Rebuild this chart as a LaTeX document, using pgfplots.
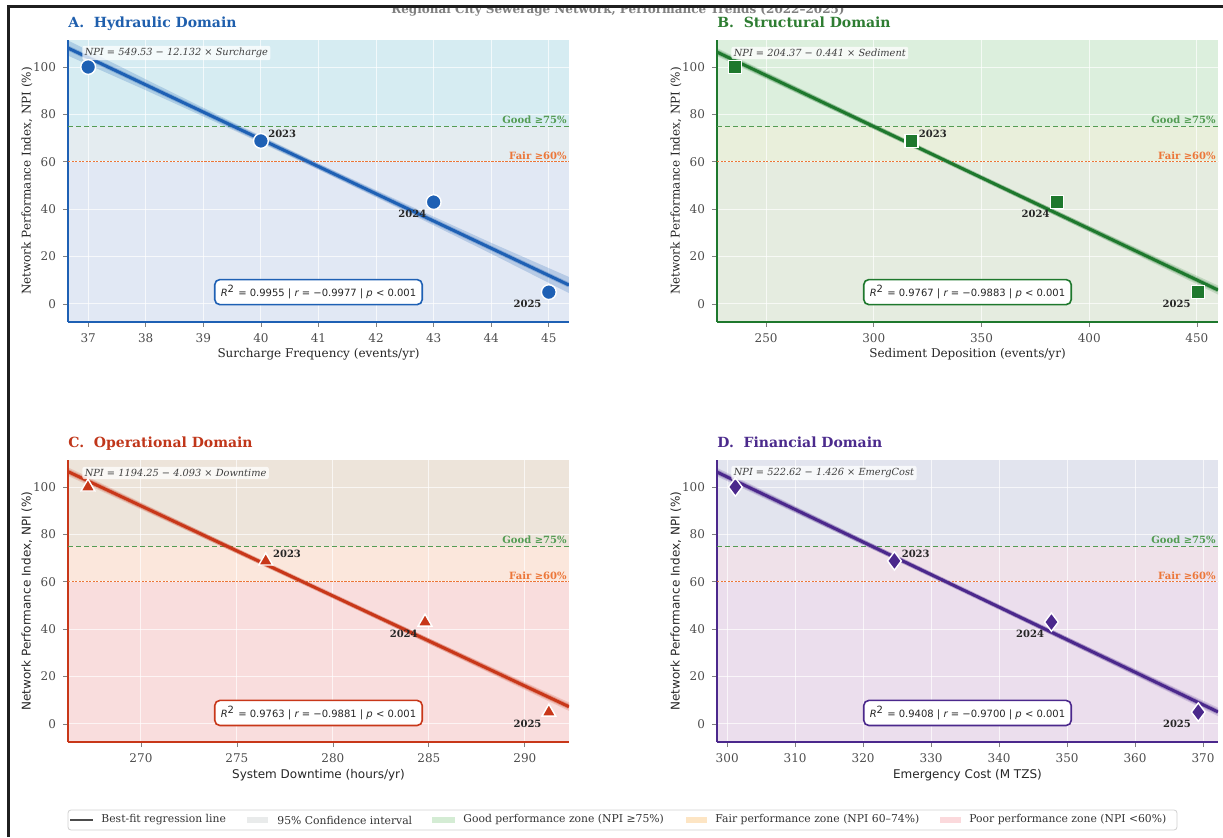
\documentclass[border=0pt]{standalone}
\usepackage{fontspec}
\setmainfont{DejaVu Serif}
\newfontfamily\sansf{DejaVu Sans}
\usepackage{pgfplots}
\pgfplotsset{compat=1.18}
\newcommand\fs[1]{\fontsize{#1}{#1}\selectfont}
% line colours
\definecolor{Aline}{HTML}{1E60B4}
\definecolor{Bline}{HTML}{1E782D}
\definecolor{Cline}{HTML}{C83719}
\definecolor{Dline}{HTML}{4B288C}
\definecolor{Atit}{HTML}{1F5FAD}
\definecolor{Btit}{HTML}{2E7D32}
\definecolor{Ctit}{HTML}{C0361A}
\definecolor{Dtit}{HTML}{4B2A8C}
% zone colours per panel
\definecolor{Ag}{RGB}{214,236,242}\definecolor{Af}{RGB}{228,236,240}\definecolor{Ap}{RGB}{225,232,244}
\definecolor{Bg}{RGB}{220,239,221}\definecolor{Bf}{RGB}{233,239,219}\definecolor{Bp}{RGB}{229,236,224}
\definecolor{Cg}{RGB}{237,228,218}\definecolor{Cf}{RGB}{251,231,220}\definecolor{Cp}{RGB}{249,221,221}
\definecolor{Dg}{RGB}{226,228,238}\definecolor{Df}{RGB}{239,225,233}\definecolor{Dp}{RGB}{235,222,237}
\definecolor{goodc}{RGB}{84,156,84}
\definecolor{fairc}{RGB}{236,118,56}
\definecolor{legci}{RGB}{233,235,235}
\definecolor{leggood}{RGB}{212,236,212}
\definecolor{legfair}{RGB}{253,229,196}
\definecolor{legpoor}{RGB}{251,217,220}
\pgfplotsset{
  panel/.style={
    scale only axis, width=250.5pt, height=141pt,
    anchor=south west,
    ymin=-7.6, ymax=111.4, ytick={0,20,...,100},
    axis x line*=bottom, axis y line*=left,
    tick align=outside, major tick length=2.5pt,
    major tick style={black!50, line width=0.4pt},
    tick label style={font=\fs{6}, text=black!70},
    /pgf/number format/assume math mode=true,
    grid=major, major grid style={white, line width=0.5pt, opacity=0.7},
    set layers, clip mode=individual,
    every axis title/.style={at={(axis description cs:0,1.043)}, anchor=base west, inner xsep=0pt, font=\bfseries\fs{7}},
    xlabel style={at={(axis description cs:0.5,-0.116)}, anchor=center, font=\fs{6}, text=black!85},
    ylabel style={at={(axis description cs:-0.082,0.5)}, anchor=center, font=\fs{6}, text=black!85},
    ylabel={Network Performance Index, NPI (\%)},
  },
  sanslabels/.style={
    xlabel style={font=\sansf\fs{6}},
    ylabel style={font=\sansf\fs{6}},
  },
}
\tikzset{
  yearlbl/.style={font=\bfseries\fs{5}, text=black!85, inner sep=0.5pt},
  eqlbl/.style={font=\itshape\fs{4.9}, text=black!75, fill=white, fill opacity=0.75, text opacity=1, rounded corners=1pt, inner sep=1.2pt},
  goodlbl/.style={font=\bfseries\fs{5}, text=goodc, inner sep=1pt, anchor=south east},
  fairlbl/.style={font=\bfseries\fs{5}, text=fairc, inner sep=1pt, anchor=south east},
  goodln/.style={goodc, dash pattern=on 2.6pt off 1.4pt, line width=0.6pt},
  fairln/.style={fairc, dash pattern=on 1.2pt off 0.55pt, line width=0.65pt},
  statbox/.style={fill=white, line width=0.8pt, rounded corners=2.5pt, font=\sansf\fs{5}, inner xsep=3pt, inner ysep=2.8pt, text=black!85},
  legtxt/.style={font=\fs{5.4}, text=black!80, anchor=west, inner sep=0pt},
}
\begin{document}
\begin{tikzpicture}[x=1pt,y=1pt]
% clipped suptitle (cut by the frame, as in the reference)
\begin{scope}
\clip (0,0) rectangle (611.5,414.2);
\node[font=\bfseries\fs{6}, text=black!50, anchor=base] at (309,411.8) {Regional City Sewerage Network, Performance Trends (2022--2025)};
\end{scope}

% ---------------- Panel A ----------------
\begin{axis}[panel, at={(34pt,257.5pt)},
  xmin=36.65, xmax=45.35, xtick={37,38,...,45},
  x axis line style={draw=Aline, line width=0.8pt, -},
  y axis line style={draw=Aline, line width=0.8pt, -},
  title={A.\ \ Hydraulic Domain}, title style={text=Atit},
  xlabel={Surcharge Frequency (events/yr)}]
\begin{pgfonlayer}{axis background}
\fill[Ag] (axis cs:36.65,75) rectangle (axis cs:45.35,111.4);
\fill[Af] (axis cs:36.65,60) rectangle (axis cs:45.35,75);
\fill[Ap] (axis cs:36.65,-7.6) rectangle (axis cs:45.35,60);
\end{pgfonlayer}
\addplot[goodln] coordinates {(36.65,75)(45.35,75)};
\addplot[fairln] coordinates {(36.65,60)(45.35,60)};
\addplot[fill=Aline, fill opacity=0.22, draw=none] coordinates {(36.65,111.2)(38,94.8)(39.5,76.8)(41,59.3)(42.5,42.4)(44,25.8)(45.35,11.4)(45.35,4.6)(44,21.2)(42.5,39.2)(41,56.7)(39.5,73.6)(38,90.2)(36.65,104.8)};
\addplot[Aline, line width=2.4pt, opacity=0.3] coordinates {(36.65,108)(45.35,8)};
\addplot[Aline, line width=1.5pt] coordinates {(36.65,108)(45.35,8)};
\addplot[only marks, mark=*, mark size=3.7pt, mark options={fill=Aline, draw=white, line width=0.7pt}] coordinates {(37,100)(40,68.8)(43,43)(45,5)};
\node[eqlbl, anchor=west] at (rel axis cs:0.028,0.954) {NPI = 549.53 − 12.132 × Surcharge};
\node[goodlbl] at (axis cs:45.35,75) {Good ≥75\%};
\node[fairlbl] at (axis cs:45.35,60) {Fair ≥60\%};
\node[yearlbl, anchor=south west, xshift=3pt, yshift=1pt] at (axis cs:40,68.8) {2023};
\node[yearlbl, anchor=north east, xshift=-3pt, yshift=-3.5pt] at (axis cs:43,43) {2024};
\node[yearlbl, anchor=north east, xshift=-3pt, yshift=-3.5pt] at (axis cs:45,5) {2025};
\node[statbox, draw=Aline] at (rel axis cs:0.5,0.106) {{\itshape R}\textsuperscript{2} = 0.9955 | {\itshape r} = −0.9977 | {\itshape p} < 0.001};
\end{axis}

% ---------------- Panel B ----------------
\begin{axis}[panel, at={(358.5pt,257.5pt)},
  xmin=227.2, xmax=459.8, xtick={250,300,...,450},
  x axis line style={draw=Bline, line width=0.8pt, -},
  y axis line style={draw=Bline, line width=0.8pt, -},
  title={B.\ \ Structural Domain}, title style={text=Btit},
  xlabel={Sediment Deposition (events/yr)}]
\begin{pgfonlayer}{axis background}
\fill[Bg] (axis cs:227.2,75) rectangle (axis cs:459.8,111.4);
\fill[Bf] (axis cs:227.2,60) rectangle (axis cs:459.8,75);
\fill[Bp] (axis cs:227.2,-7.6) rectangle (axis cs:459.8,60);
\end{pgfonlayer}
\addplot[goodln] coordinates {(227.2,75)(459.8,75)};
\addplot[fairln] coordinates {(227.2,60)(459.8,60)};
\addplot[fill=Bline, fill opacity=0.18, draw=none] coordinates {(227.2,108.0)(343.5,56.8)(459.8,7.8)(459.8,4.0)(343.5,55.4)(227.2,104.6)};
\addplot[Bline, line width=2.4pt, opacity=0.3] coordinates {(227.2,106.3)(459.8,5.9)};
\addplot[Bline, line width=1.5pt] coordinates {(227.2,106.3)(459.8,5.9)};
\addplot[only marks, mark=square*, mark size=3.2pt, mark options={fill=Bline, draw=white, line width=0.7pt}] coordinates {(235.5,100)(317.5,68.8)(385,43)(450.5,5)};
\node[eqlbl, anchor=west] at (rel axis cs:0.028,0.954) {NPI = 204.37 − 0.441 × Sediment};
\node[goodlbl] at (axis cs:459.8,75) {Good ≥75\%};
\node[fairlbl] at (axis cs:459.8,60) {Fair ≥60\%};
\node[yearlbl, anchor=south west, xshift=3pt, yshift=1pt] at (axis cs:317.5,68.8) {2023};
\node[yearlbl, anchor=north east, xshift=-3pt, yshift=-3.5pt] at (axis cs:385,43) {2024};
\node[yearlbl, anchor=north east, xshift=-3pt, yshift=-3.5pt] at (axis cs:450.5,5) {2025};
\node[statbox, draw=Bline] at (rel axis cs:0.5,0.106) {{\itshape R}\textsuperscript{2} = 0.9767 | {\itshape r} = −0.9883 | {\itshape p} < 0.001};
\end{axis}

% ---------------- Panel C ----------------
\begin{axis}[panel, sanslabels, at={(34pt,47.5pt)},
  xmin=266.2, xmax=292.3, xtick={270,275,...,290},
  x axis line style={draw=Cline, line width=0.8pt, -},
  y axis line style={draw=Cline, line width=0.8pt, -},
  title={C.\ \ Operational Domain}, title style={text=Ctit},
  xlabel={System Downtime (hours/yr)}]
\begin{pgfonlayer}{axis background}
\fill[Cg] (axis cs:266.2,75) rectangle (axis cs:292.3,111.4);
\fill[Cf] (axis cs:266.2,60) rectangle (axis cs:292.3,75);
\fill[Cp] (axis cs:266.2,-7.6) rectangle (axis cs:292.3,60);
\end{pgfonlayer}
\addplot[goodln] coordinates {(266.2,75)(292.3,75)};
\addplot[fairln] coordinates {(266.2,60)(292.3,60)};
\addplot[fill=Cline, fill opacity=0.18, draw=none] coordinates {(266.2,108.3)(279.25,57.5)(292.3,9.1)(292.3,5.5)(279.25,56.1)(266.2,104.7)};
\addplot[Cline, line width=2.4pt, opacity=0.3] coordinates {(266.2,106.5)(292.3,7.3)};
\addplot[Cline, line width=1.5pt] coordinates {(266.2,106.5)(292.3,7.3)};
\addplot[only marks, mark=triangle*, mark size=4pt, mark options={fill=Cline, draw=white, line width=0.7pt}] coordinates {(267.24,100)(276.5,68.8)(284.8,43)(291.25,5)};
\node[eqlbl, anchor=west] at (rel axis cs:0.028,0.954) {NPI = 1194.25 − 4.093 × Downtime};
\node[goodlbl] at (axis cs:292.3,75) {Good ≥75\%};
\node[fairlbl] at (axis cs:292.3,60) {Fair ≥60\%};
\node[yearlbl, anchor=south west, xshift=3pt, yshift=1pt] at (axis cs:276.5,68.8) {2023};
\node[yearlbl, anchor=north east, xshift=-3pt, yshift=-3.5pt] at (axis cs:284.8,43) {2024};
\node[yearlbl, anchor=north east, xshift=-3pt, yshift=-3.5pt] at (axis cs:291.25,5) {2025};
\node[statbox, draw=Cline] at (rel axis cs:0.5,0.103) {{\itshape R}\textsuperscript{2} = 0.9763 | {\itshape r} = −0.9881 | {\itshape p} < 0.001};
\end{axis}

% ---------------- Panel D ----------------
\begin{axis}[panel, sanslabels, at={(358.5pt,47.5pt)},
  xmin=298.5, xmax=372.2, xtick={300,310,...,370},
  x axis line style={draw=Dline, line width=0.8pt, -},
  y axis line style={draw=Dline, line width=0.8pt, -},
  title={D.\ \ Financial Domain}, title style={text=Dtit},
  xlabel={Emergency Cost (M TZS)}]
\begin{pgfonlayer}{axis background}
\fill[Dg] (axis cs:298.5,75) rectangle (axis cs:372.2,111.4);
\fill[Df] (axis cs:298.5,60) rectangle (axis cs:372.2,75);
\fill[Dp] (axis cs:298.5,-7.6) rectangle (axis cs:372.2,60);
\end{pgfonlayer}
\addplot[goodln] coordinates {(298.5,75)(372.2,75)};
\addplot[fairln] coordinates {(298.5,60)(372.2,60)};
\addplot[fill=Dline, fill opacity=0.18, draw=none] coordinates {(298.5,108.1)(335.35,56.4)(372.2,6.9)(372.2,3.3)(335.35,55.0)(298.5,104.5)};
\addplot[Dline, line width=2.4pt, opacity=0.3] coordinates {(298.5,106.3)(372.2,5.1)};
\addplot[Dline, line width=1.5pt] coordinates {(298.5,106.3)(372.2,5.1)};
\addplot[only marks, mark=diamond*, mark size=4.6pt, mark options={fill=Dline, draw=white, line width=0.7pt}] coordinates {(301.2,100)(324.6,68.8)(347.7,43)(369.3,5)};
\node[eqlbl, anchor=west] at (rel axis cs:0.028,0.954) {NPI = 522.62 − 1.426 × EmergCost};
\node[goodlbl] at (axis cs:372.2,75) {Good ≥75\%};
\node[fairlbl] at (axis cs:372.2,60) {Fair ≥60\%};
\node[yearlbl, anchor=south west, xshift=3pt, yshift=1pt] at (axis cs:324.6,68.8) {2023};
\node[yearlbl, anchor=north east, xshift=-3pt, yshift=-3.5pt] at (axis cs:347.7,43) {2024};
\node[yearlbl, anchor=north east, xshift=-3pt, yshift=-3.5pt] at (axis cs:369.3,5) {2025};
\node[statbox, draw=Dline] at (rel axis cs:0.5,0.103) {{\itshape R}\textsuperscript{2} = 0.9408 | {\itshape r} = −0.9700 | {\itshape p} < 0.001};
\end{axis}

% ---------------- legend ----------------
\draw[black!18, fill=white, rounded corners=1.5pt, line width=0.4pt] (34,3.5) rectangle (588.5,13.5);
\draw[black!70, line width=1.4pt] (35,8.5) -- (46.5,8.5);
\node[legtxt] at (50.5,8.5) {Best-fit regression line};
\fill[legci] (123.5,6.8) rectangle (134,10.2);
\node[legtxt] at (138.5,8.5) {95\% Confidence interval};
\fill[leggood] (216,6.8) rectangle (227.5,10.2);
\node[legtxt] at (231.5,8.5) {Good performance zone (NPI ≥75\%)};
\fill[legfair] (343,6.8) rectangle (353.5,10.2);
\node[legtxt] at (357.5,8.5) {Fair performance zone (NPI 60–74\%)};
\fill[legpoor] (470,6.8) rectangle (480.5,10.2);
\node[legtxt] at (484.5,8.5) {Poor performance zone (NPI <60\%)};

% ---------------- frame ----------------
\draw[black!88, line width=1.5pt] (4,0) -- (4,415) -- (611.5,415);
\pgfresetboundingbox
\path[use as bounding box] (0,0) rectangle (611.5,418.5);
\end{tikzpicture}
\end{document}
